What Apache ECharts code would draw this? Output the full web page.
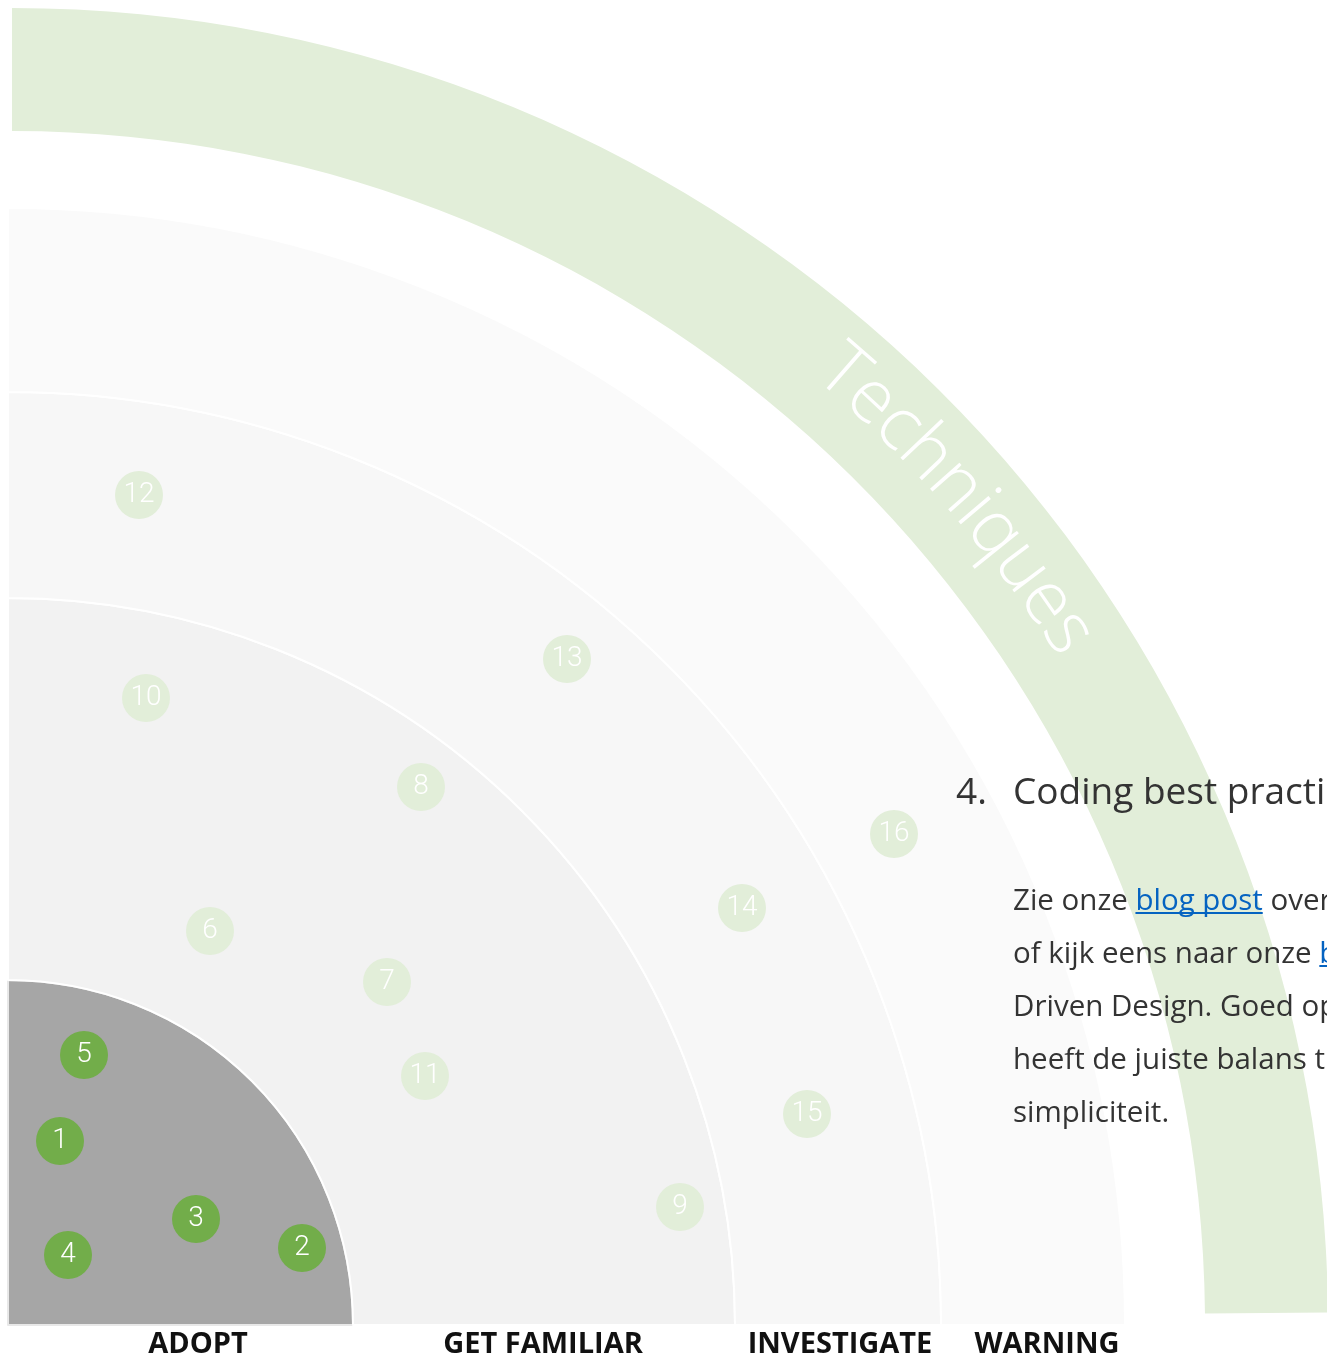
<!DOCTYPE html>
<html lang="nl">
  <head>
    <meta charset="UTF-8" />
    <meta name="viewport" content="width=device-width, initial-scale=1.0" />
    <title>Tech radar - Techniques</title>
    <script src="https://cdn.jsdelivr.net/npm/echarts@6/dist/echarts.min.js"></script>
    <style>
      html, body { margin: 0; padding: 0; background: #fff; overflow: hidden; }
    </style>
  </head>
  <body>
    <div id="main" style="width: 1327px; height: 1355px"></div>
    <script type="text/javascript">
      // quadrant and rings
      const quadrant = "Techniques";
      const rings = ["ADOPT", "GET FAMILIAR", "INVESTIGATE", "WARNING"];

      // blips, x/y measured from the radar centre
      const blipIds = [1, 2, 3, 4, 5, 6, 7, 8, 9, 10, 11, 12, 13, 14, 15, 16];
      const blipX = [52, 294, 188, 60, 76, 202, 379, 413, 672, 138, 417, 131, 559, 734, 799, 886];
      const blipY = [184, 77, 106, 70, 270, 394, 343, 538, 118, 627, 249, 830, 666, 417, 211, 491];
      const blipRing = [0, 0, 0, 0, 0, 1, 1, 1, 1, 1, 1, 2, 2, 2, 2, 3];

      // layout
      const center = [8, 1325];
      const ringRadius = [0, 345, 727, 933, 1117];
      const ringColors = ["#a6a6a6", "#f2f2f2", "#f7f7f7", "#fafafa"];
      const ringBorders = ["#e8e8e8", "#ffffff", "#ffffff", "#ffffff"];
      const ringLabelX = [198, 543, 840, 1047];
      const bandCenter = [12, 1324];
      const bandRadius = [1193, 1316];

      const ctx = document.createElement("canvas").getContext("2d");
      const graphics = [];

      // curved quadrant title
      const arcFont = "300 74px 'Open Sans'";
      ctx.font = arcFont;
      const chars = quadrant.split("");
      const widths = chars.map((c) => ctx.measureText(c).width);
      const total = widths.reduce((a, b) => a + b, 0);
      const arcR = 1262;
      const arcMid = (41.1 * Math.PI) / 180;
      let theta = arcMid + total / 2 / arcR;
      chars.forEach((c, i) => {
        const t = theta - widths[i] / 2 / arcR;
        graphics.push({
          type: "text",
          x: bandCenter[0] + arcR * Math.cos(t),
          y: bandCenter[1] - arcR * Math.sin(t),
          rotation: t - Math.PI / 2,
          z: 50,
          silent: true,
          style: { text: c, font: arcFont, fill: "#ffffff", align: "center", verticalAlign: "middle" },
        });
        theta -= widths[i] / arcR;
      });

      // ring names along the bottom
      rings.forEach((name, i) => {
        graphics.push({
          type: "text",
          x: ringLabelX[i],
          y: 1345,
          z: 50,
          style: { text: name, font: "bold 29px 'Open Sans'", fill: "#111111", align: "center", verticalAlign: "middle" },
        });
      });

      // description text on the right
      graphics.push({
        type: "text", x: 956, y: 793, z: 60,
        style: { text: "4.", font: "37px 'Open Sans'", fill: "#333333", verticalAlign: "middle" },
      });
      graphics.push({
        type: "text", x: 1013, y: 793, z: 60,
        style: { text: "Coding best practices", font: "37px 'Open Sans'", fill: "#333333", verticalAlign: "middle" },
      });

      const bodyFont = "29.5px 'Open Sans'";
      const bodyLines = [
        [["Zie onze ", false], ["blog post", true], [" over", false]],
        [["of kijk eens naar onze ", false], ["blog", true]],
        [["Driven Design. Goed op", false]],
        [["heeft de juiste balans tussen", false]],
        [["simpliciteit.", false]],
      ];
      ctx.font = bodyFont;
      bodyLines.forEach((line, li) => {
        const base = 910 + li * 53;
        let x = 1013;
        line.forEach(([txt, link]) => {
          const w = ctx.measureText(txt).width;
          graphics.push({
            type: "text", x: x, y: base - 8, z: 60,
            style: { text: txt, font: bodyFont, fill: link ? "#0563c1" : "#333333", verticalAlign: "middle" },
          });
          if (link) {
            graphics.push({
              type: "line", z: 60,
              shape: { x1: x, y1: base + 3, x2: x + w, y2: base + 3 },
              style: { stroke: "#0563c1", lineWidth: 2 },
            });
          }
          x += w;
        });
      });

      // ring backgrounds as quarter pies
      const quarter = (color, share) => [
        { value: share, itemStyle: { color: color } },
        { value: 360 - share, itemStyle: { color: "transparent", borderWidth: 0 } },
      ];
      const ringSeries = rings.map((name, i) => ({
        type: "pie",
        name: name,
        center: center,
        radius: [ringRadius[i], ringRadius[i + 1]],
        startAngle: 90,
        clockwise: true,
        silent: true,
        animation: false,
        z: 1,
        label: { show: false },
        labelLine: { show: false },
        itemStyle: { borderColor: ringBorders[i], borderWidth: 2 },
        data: quarter(ringColors[i], 90),
      }));

      const bandSeries = {
        type: "pie",
        center: bandCenter,
        radius: bandRadius,
        startAngle: 90,
        clockwise: true,
        silent: true,
        animation: false,
        z: 0,
        label: { show: false },
        labelLine: { show: false },
        itemStyle: { borderWidth: 0 },
        data: quarter("#e2eed9", 89.5),
      };

      const blipData = (inAdopt) =>
        blipIds
          .map((id, i) => ({ id, i }))
          .filter((b) => (blipRing[b.i] === 0) === inAdopt)
          .map((b) => ({ name: String(b.id), value: [blipX[b.i], blipY[b.i]] }));

      const blipLabel = {
        show: true,
        position: "inside",
        formatter: "{b}",
        color: "#ffffff",
        fontFamily: "Roboto",
        fontSize: 28,
        fontWeight: 300,
      };

      const options = {
        animation: false,
        grid: { left: center[0], top: center[1] - ringRadius[4], width: ringRadius[4], height: ringRadius[4] },
        xAxis: { type: "value", min: 0, max: ringRadius[4], show: false },
        yAxis: { type: "value", min: 0, max: ringRadius[4], show: false },
        series: [
          bandSeries,
          ...ringSeries,
          {
            type: "scatter",
            name: "adopt",
            symbolSize: 48,
            z: 5,
            itemStyle: { color: "#72ad4a", opacity: 1 },
            label: blipLabel,
            data: blipData(true),
          },
          {
            type: "scatter",
            name: "other",
            symbolSize: 48,
            z: 5,
            itemStyle: { color: "#e2eed9", opacity: 1 },
            label: blipLabel,
            data: blipData(false),
          },
        ],
        graphic: { elements: graphics },
      };

      let myChart = echarts.init(document.getElementById("main"));
      myChart.setOption(options);
    </script>
  </body>
</html>
